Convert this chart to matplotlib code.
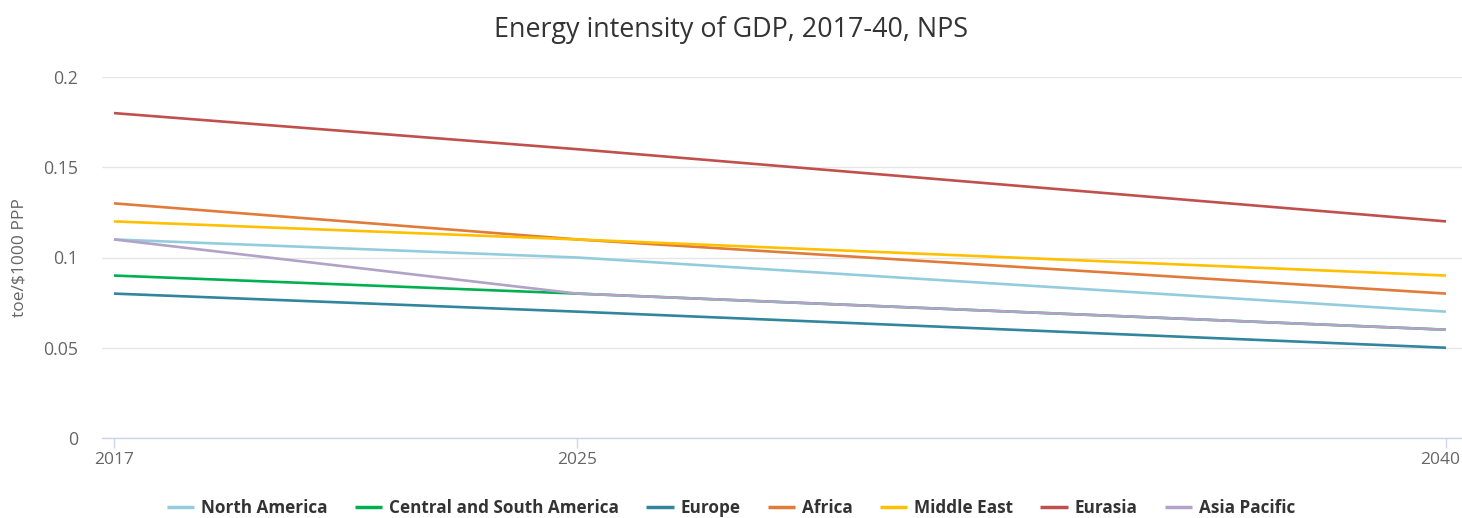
import matplotlib
matplotlib.use("Agg")
import matplotlib.pyplot as plt
from matplotlib.transforms import ScaledTranslation

years = [2017, 2025, 2040]
regions = ["North America", "Central and South America", "Europe", "Africa",
           "Middle East", "Eurasia", "Asia Pacific"]
north_america = [0.11, 0.10, 0.07]
central_south_america = [0.09, 0.08, 0.06]
europe = [0.08, 0.07, 0.05]
africa = [0.13, 0.11, 0.08]
middle_east = [0.12, 0.11, 0.09]
eurasia = [0.18, 0.16, 0.12]
asia_pacific = [0.11, 0.08, 0.06]
y_ticks = [0, 0.05, 0.1, 0.15, 0.2]
y_tick_labels = ["0", "0.05", "0.1", "0.15", "0.2"]

series = [north_america, central_south_america, europe, africa,
          middle_east, eurasia, asia_pacific]
colors = ["#93cddd", "#00b050", "#31859c", "#e07b39",
          "#ffc000", "#c0504d", "#b3a2c7"]

plt.rcParams['font.family'] = ['Open Sans', 'DejaVu Sans']

fig = plt.figure(figsize=(14.62, 5.18), dpi=100)
ax = fig.add_axes([102 / 1462, 1 - 438 / 518, 1360 / 1462, 361 / 518])

for name, vals, c in zip(regions, series, colors):
    ax.plot(years, vals, color=c, lw=1.9, label=name, solid_capstyle='butt')

ppy = (1446 - 114) / 23
ax.set_xlim(2017 - 12 / ppy, 2040 + 16 / ppy)
ax.set_ylim(0, 0.2)
ax.set_xticks(years)
ax.set_xticklabels([str(y) for y in years])
ax.set_yticks(y_ticks)
ax.set_yticklabels(y_tick_labels)

ax.grid(axis='y', color='#e6e6e6', lw=1)
ax.set_axisbelow(True)
for s in ['top', 'right', 'left']:
    ax.spines[s].set_visible(False)
ax.spines['bottom'].set_color('#ccd6eb')
ax.spines['bottom'].set_linewidth(1)

ax.tick_params(axis='y', length=0, pad=17, labelsize=12.8, labelcolor='#666666')
ax.tick_params(axis='x', length=7, width=1, color='#ccd6eb', pad=3,
               labelsize=12.5, labelcolor='#666666')

# keep the last year label inside the figure edge
last_label = ax.get_xticklabels()[-1]
last_label.set_transform(last_label.get_transform()
                         + ScaledTranslation(-0.06, 0, fig.dpi_scale_trans))

ax.set_ylabel("toe/\\$1000 PPP", fontsize=12.5, color='#666666')
ax.yaxis.set_label_coords(-74 / 1360, 0.5)

fig.text(0.5, 1 - 30 / 518, "Energy intensity of GDP, 2017-40, NPS",
         ha='center', va='center', fontsize=19.4, color='#333333')

leg = fig.legend(loc='center', bbox_to_anchor=(0.5, 1 - 508 / 518), ncol=7,
                 frameon=False, handlelength=1.6, columnspacing=1.6,
                 handletextpad=0.4,
                 prop={'size': 12.3, 'weight': 'bold'})
for t in leg.get_texts():
    t.set_color('#333333')
for h in leg.get_lines():
    h.set_linewidth(2.5)

fig.savefig("out.png", dpi=100)
